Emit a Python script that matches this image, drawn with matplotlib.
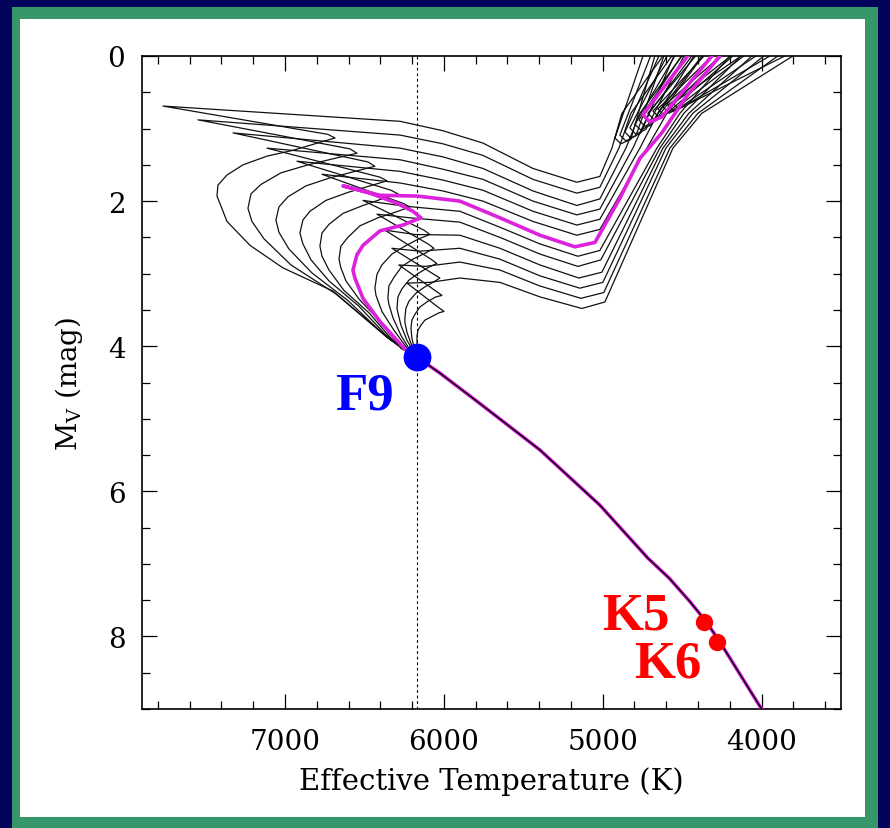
import matplotlib
matplotlib.use('Agg')
import matplotlib.pyplot as plt
from matplotlib.patches import Rectangle
from matplotlib.ticker import MultipleLocator

plt.rcParams['font.family'] = ['DejaVu Serif']
plt.rcParams['mathtext.fontset'] = 'dejavuserif'

# lower main sequence, shared by all isochrones (Teff, Mv)
ms_T = [4000, 4267, 4351, 4451, 4580, 4716, 5018, 5395, 5773, 6025, 6169]
ms_M = [9.00, 8.06, 7.79, 7.52, 7.20, 6.92, 6.19, 5.43, 4.79, 4.37, 4.15]

# upper parts: turnoff, hook, subgiant branch, giant branch, clump (youngest first)
iso0_T = [6402, 6698, 7013, 7220, 7365, 7428, 7422, 7365, 7264, 7113, 6950, 6811, 6685, 6730, 7768,
          6276, 6006, 5754, 5439, 5163, 5018, 4942, 4879, 4621, 4496, 4684, 4923, 4886, 4823, 4672, 4596]
iso0_M = [3.79, 3.24, 2.92, 2.61, 2.28, 1.93, 1.78, 1.64, 1.50, 1.38, 1.30, 1.21, 1.13, 1.08, 0.69,
          0.90, 1.03, 1.20, 1.55, 1.74, 1.66, 1.27, 0.79, 0.00, -0.4, -0.4, 1.13, 1.21, 1.15, 0.00, -0.4]

iso1_T = [6383, 6679, 6962, 7132, 7208, 7233, 7214, 7151, 7025, 6855, 6685, 6547, 6591, 7548,
          6276, 6006, 5754, 5439, 5163, 5018, 4898, 4823, 4565, 4439, 4628, 4892, 4854, 4791, 4615, 4540]
iso1_M = [3.83, 3.28, 2.88, 2.52, 2.28, 2.10, 1.90, 1.77, 1.61, 1.50, 1.41, 1.34, 1.28, 0.88,
          1.09, 1.21, 1.37, 1.70, 1.89, 1.81, 1.27, 0.79, 0.00, -0.4, -0.4, 1.09, 1.17, 1.10, 0.00, -0.4]

iso2_T = [6358, 6604, 6830, 6975, 7038, 7057, 7038, 6981, 6868, 6717, 6560, 6434, 6478, 7327,
          6276, 6006, 5754, 5439, 5163, 5018, 4854, 4766, 4502, 4370, 4565, 4860, 4823, 4760, 4552, 4477]
iso2_M = [3.88, 3.37, 2.99, 2.66, 2.43, 2.26, 2.08, 1.94, 1.79, 1.68, 1.59, 1.52, 1.46, 1.06,
          1.27, 1.39, 1.55, 1.86, 2.06, 1.97, 1.27, 0.79, 0.00, -0.4, -0.4, 1.05, 1.13, 1.06, 0.00, -0.4]

iso3_T = [6333, 6534, 6723, 6836, 6887, 6906, 6887, 6843, 6742, 6604, 6465, 6358, 6402, 7113,
          6276, 6006, 5754, 5439, 5163, 5018, 4810, 4709, 4439, 4300, 4502, 4829, 4791, 4728, 4489, 4414]
iso3_M = [3.92, 3.45, 3.10, 2.81, 2.59, 2.44, 2.26, 2.14, 1.99, 1.88, 1.79, 1.72, 1.67, 1.27,
          1.43, 1.56, 1.70, 2.00, 2.19, 2.11, 1.27, 0.79, 0.00, -0.4, -0.4, 0.99, 1.08, 1.01, 0.00, -0.4]

iso4_T = [6302, 6471, 6629, 6723, 6767, 6780, 6767, 6723, 6635, 6509, 6390, 6289, 6333, 6925,
          6276, 6006, 5754, 5439, 5163, 5018, 4766, 4653, 4376, 4238, 4439, 4798, 4760, 4697, 4426, 4351]
iso4_M = [3.97, 3.54, 3.23, 2.95, 2.76, 2.62, 2.44, 2.32, 2.17, 2.06, 1.97, 1.90, 1.85, 1.45,
          1.59, 1.71, 1.85, 2.14, 2.33, 2.25, 1.27, 0.79, 0.00, -0.4, -0.4, 0.94, 1.02, 0.95, 0.00, -0.4]

iso5_T = [6270, 6409, 6534, 6616, 6648, 6660, 6648, 6604, 6528, 6415, 6302, 6213, 6258, 6767,
          6276, 6006, 5754, 5439, 5163, 5018, 4722, 4596, 4319, 4181, 4382, 4772, 4735, 4672, 4370, 4294]
iso5_M = [4.03, 3.64, 3.35, 3.10, 2.92, 2.80, 2.62, 2.50, 2.34, 2.23, 2.15, 2.08, 2.03, 1.63,
          1.75, 1.86, 2.00, 2.28, 2.47, 2.39, 1.27, 0.79, 0.00, -0.4, -0.4, 0.88, 0.97, 0.90, 0.00, -0.4]

# highlighted (magenta) isochrone
iso6_T = [6245, 6402, 6509, 6560, 6572, 6547, 6509, 6402, 6258, 6144, 6195, 6295, 6465, 6635,
          6402, 6169, 5899, 5647, 5395, 5175, 5049, 4892, 4766, 4628, 4470, 4263, 4124,
          4326, 4747, 4703, 4628, 4313, 4238]
iso6_M = [4.04, 3.66, 3.34, 3.06, 2.95, 2.74, 2.61, 2.41, 2.33, 2.23, 2.14, 2.03, 1.89, 1.79,
          1.92, 1.93, 2.00, 2.23, 2.47, 2.63, 2.57, 1.96, 1.41, 1.06, 0.55, 0.00, -0.4,
          -0.4, 0.81, 0.91, 0.84, 0.00, -0.4]

iso7_T = [6207, 6314, 6390, 6427, 6434, 6421, 6390, 6327, 6245, 6157, 6088, 6125, 6509,
          6245, 5899, 5647, 5395, 5156, 5018, 4659, 4514, 4200, 4042, 4263, 4716, 4678, 4615, 4250, 4175]
iso7_M = [4.10, 3.78, 3.52, 3.30, 3.20, 3.01, 2.88, 2.73, 2.62, 2.52, 2.46, 2.40, 1.99,
          2.07, 2.14, 2.36, 2.59, 2.76, 2.68, 1.27, 0.79, 0.00, -0.4, -0.4, 0.79, 0.87, 0.80, 0.00, -0.4]

iso8_T = [6195, 6270, 6320, 6346, 6352, 6346, 6314, 6264, 6195, 6119, 6062, 6100, 6421,
          6213, 5899, 5647, 5395, 5156, 5012, 4640, 4489, 4130, 3954, 4193, 4684, 4647, 4584, 4181, 4105]
iso8_M = [4.12, 3.85, 3.61, 3.42, 3.34, 3.17, 3.05, 2.90, 2.80, 2.72, 2.65, 2.59, 2.18,
          2.23, 2.29, 2.50, 2.73, 2.90, 2.81, 1.27, 0.79, 0.00, -0.4, -0.4, 0.76, 0.84, 0.77, 0.00, -0.4]

iso9_T = [6232, 6270, 6289, 6295, 6289, 6264, 6220, 6157, 6094, 6044, 6081, 6371,
          6182, 5899, 5647, 5395, 5150, 5005, 4621, 4458, 4061, 3860, 4124, 4653, 4615, 4552, 4112, 4036]
iso9_M = [3.92, 3.71, 3.54, 3.48, 3.32, 3.21, 3.09, 2.99, 2.91, 2.86, 2.80, 2.40,
          2.46, 2.47, 2.65, 2.88, 3.06, 2.98, 1.27, 0.79, 0.00, -0.4, -0.4, 0.73, 0.81, 0.74, 0.00, -0.4]

iso10_T = [6207, 6232, 6245, 6245, 6239, 6220, 6176, 6125, 6069, 6025, 6062, 6327,
           6151, 5899, 5647, 5395, 5144, 4999, 4602, 4433, 3986, 3759, 4049, 4621, 4584, 4521, 4036, 3961]
iso10_M = [3.96, 3.81, 3.67, 3.61, 3.48, 3.38, 3.27, 3.19, 3.12, 3.06, 3.01, 2.65,
           2.69, 2.65, 2.80, 3.03, 3.20, 3.12, 1.27, 0.79, 0.00, -0.4, -0.4, 0.70, 0.79, 0.72, 0.00, -0.4]

iso11_T = [6188, 6201, 6207, 6201, 6182, 6151, 6100, 6050, 6012, 6050, 6283,
           6119, 5899, 5647, 5395, 5137, 4993, 4577, 4401, 3898, 3646, 3961, 4590, 4552, 4489, 3948, 3872]
iso11_M = [4.01, 3.89, 3.75, 3.64, 3.56, 3.46, 3.38, 3.32, 3.30, 3.24, 2.88,
           2.90, 2.84, 2.95, 3.17, 3.34, 3.26, 1.27, 0.79, 0.00, -0.4, -0.4, 0.68, 0.76, 0.69, 0.00, -0.4]

iso12_T = [6169, 6169, 6163, 6144, 6119, 6075, 6031, 5999, 6037, 6232,
           6088, 5899, 5647, 5395, 5131, 4986, 4558, 4376, 3803, 3520, 3866, 4558, 4521, 4458, 3854, 3778]
iso12_M = [4.00, 3.86, 3.78, 3.71, 3.64, 3.59, 3.54, 3.52, 3.46, 3.13,
           3.12, 3.06, 3.12, 3.32, 3.48, 3.39, 1.27, 0.79, 0.00, -0.4, -0.4, 0.65, 0.73, 0.66, 0.00, -0.4]

black_isos = [(iso0_T, iso0_M), (iso1_T, iso1_M), (iso2_T, iso2_M), (iso3_T, iso3_M),
              (iso4_T, iso4_M), (iso5_T, iso5_M), (iso7_T, iso7_M), (iso8_T, iso8_M),
              (iso9_T, iso9_M), (iso10_T, iso10_M), (iso11_T, iso11_M), (iso12_T, iso12_M)]

# marked stars
star_names = ['F9', 'K5', 'K6']
star_T = [6169, 4363, 4282]
star_M = [4.15, 7.80, 8.07]
f9_teff = 6170

fig = plt.figure(figsize=(8.9, 8.29), dpi=100)
fig.patch.set_facecolor('#03035c')
W, H = 890.0, 829.0
fig.add_artist(Rectangle((12 / W, 0), 866 / W, 821 / H, transform=fig.transFigure,
                         facecolor='#35976a', edgecolor='none', zorder=0))
fig.add_artist(Rectangle((20 / W, 11 / H), 845 / W, 798 / H, transform=fig.transFigure,
                         facecolor='white', edgecolor='none', zorder=0))

ax = fig.add_axes([142 / W, 1 - 710 / H, 699 / W, 653 / H])
ax.set_facecolor('none')

for T, M in black_isos:
    ax.plot(ms_T + T, ms_M + M, color='#111111', lw=0.9, zorder=2)
ax.plot(ms_T + iso6_T, ms_M + iso6_M, color='#dd22dd', lw=2.6, zorder=3,
        solid_joinstyle='round')
ax.plot(ms_T, ms_M, color='black', lw=1.0, zorder=4)

ax.axvline(f9_teff, color='black', lw=0.8, ls=(0, (2.5, 2.5)), zorder=1)

ax.plot(star_T[0], star_M[0], 'o', color='#0000ff', ms=19, zorder=5)
ax.plot(star_T[1:], star_M[1:], 'o', color='#ff0000', ms=11.5, ls='none', zorder=5)

lab = dict(fontsize=38, fontweight='bold', family='Liberation Serif', ha='center', va='baseline')
ax.text(6503, 4.86, star_names[0], color='#0000ff', **lab)
ax.text(4794, 7.89, star_names[1], color='#ff0000', **lab)
ax.text(4593, 8.55, star_names[2], color='#ff0000', **lab)

ax.set_xlim(7900, 3500)
ax.set_ylim(9, 0)
ax.xaxis.set_major_locator(MultipleLocator(1000))
ax.xaxis.set_minor_locator(MultipleLocator(200))
ax.yaxis.set_major_locator(MultipleLocator(2))
ax.yaxis.set_minor_locator(MultipleLocator(0.5))
ax.tick_params(which='both', direction='in', top=True, right=True, width=0.9, labelsize=20)
ax.tick_params(axis='x', pad=14)
ax.tick_params(axis='y', pad=12)
ax.tick_params(which='major', length=11)
ax.tick_params(which='minor', length=5.5)
for s in ax.spines.values():
    s.set_linewidth(1.2)

ax.set_xlabel('Effective Temperature (K)', fontsize=21, labelpad=8)
ax.set_ylabel(r'M$_{\rm V}$ (mag)', fontsize=20, labelpad=16)

fig.savefig('out.png', dpi=100)
